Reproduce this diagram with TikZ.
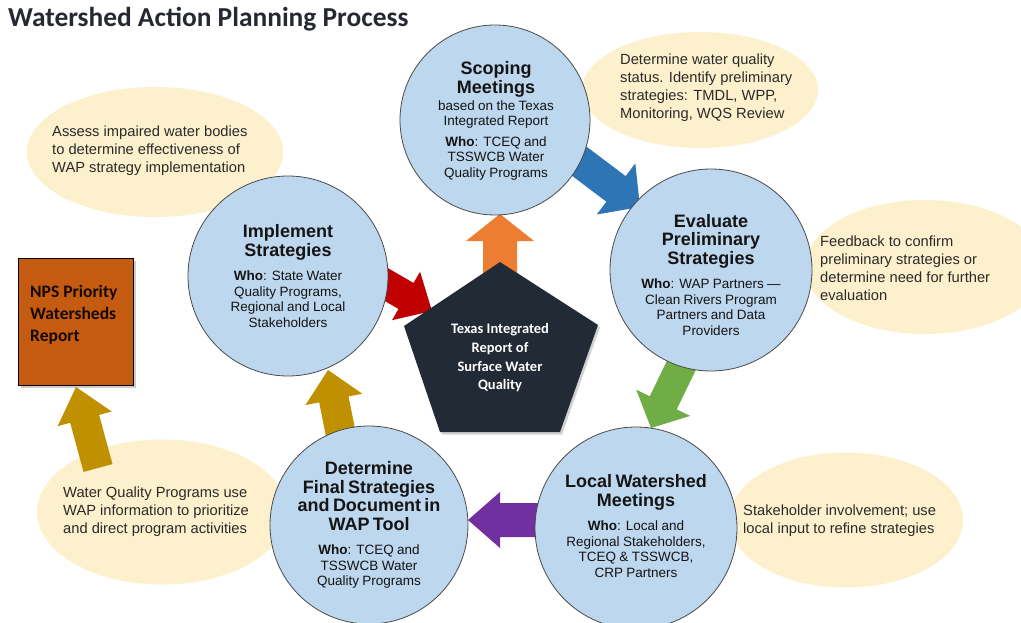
\documentclass[tikz,border=0pt]{standalone}
\usepackage{fontspec}
\setmainfont{Liberation Sans}
\newfontfamily\carlito{Carlito}
\usetikzlibrary{shapes.geometric,shadows,calc}
\definecolor{circfill}{HTML}{BDD7EE}
\definecolor{circedge}{HTML}{4A4A4A}
\definecolor{cream}{HTML}{FDF0CC}
\definecolor{pent}{HTML}{222A35}
\definecolor{npsfill}{HTML}{C55A11}
\definecolor{aorange}{HTML}{ED7D31}
\definecolor{ablue}{HTML}{2E75B6}
\definecolor{agreen}{HTML}{70AD47}
\definecolor{apurple}{HTML}{7030A0}
\definecolor{agold}{HTML}{BF9000}
\definecolor{ared}{HTML}{C00000}
\definecolor{titlec}{HTML}{262A30}
\definecolor{txt}{HTML}{141414}
\definecolor{etxt}{HTML}{2A2A2A}
\newcommand\stgtitle{\fontsize{18}{18.5}\selectfont\bfseries}
\newcommand\stgbody{\fontsize{13.5}{15.5}\selectfont\mdseries}
% block arrow: colour, tail, tip, shaft half width, head half width, head length
\newcommand\blockarrow[6]{%
  \path[fill=#1] let \p1=(#2), \p2=(#3), \n1={atan2(\y2-\y1,\x2-\x1)}, \n2={veclen(\x2-\x1,\y2-\y1)} in
  {[shift={(\p1)}, rotate=\n1]
   (0pt,-#4pt) -- (\n2-#6pt,-#4pt) -- (\n2-#6pt,-#5pt) -- (\n2,0pt) -- (\n2-#6pt,#5pt) -- (\n2-#6pt,#4pt) -- (0pt,#4pt) -- cycle};}
\tikzset{
  stage/.style={circle, fill=circfill, draw=circedge, line width=0.8pt, inner sep=0pt},
  stagetext/.style={text width=175pt, align=center, inner sep=0pt, text=txt},
  note/.style={ellipse, fill=cream, inner sep=0pt},
  notetext/.style={anchor=west, align=left, inner sep=0pt, text=etxt, font=\fontsize{14.7}{18}\selectfont},
}
\begin{document}
\begin{tikzpicture}[x=1pt,y=-1pt]
\path[use as bounding box, fill=white] (0,0) rectangle (1021,623);

% notes (ellipses)
\node[note, minimum width=236pt, minimum height=116pt] (n1) at (700,90) {};
\node[note, minimum width=256pt, minimum height=130pt] (n2) at (155,152) {};
\node[note, minimum width=240pt, minimum height=134pt] (n3) at (925,267) {};
\node[note, minimum width=234pt, minimum height=135pt] (n4) at (846,520) {};
\node[note, minimum width=250pt, minimum height=145pt] (n5) at (162,512) {};
\node[notetext] (n1t) at (620,88) {Determine water quality\\status. Identify preliminary\\strategies: TMDL, WPP,\\Monitoring, WQS Review};
\node[notetext] (n2t) at (52,151) {Assess impaired water bodies\\to determine effectiveness of\\WAP strategy implementation};
\node[notetext] (n3t) at (820,268) {Feedback to confirm\\preliminary strategies or\\determine need for further\\evaluation};
\node[notetext] (n4t) at (743,521) {Stakeholder involvement; use\\local input to refine strategies};
\node[notetext] (n5t) at (63,512) {Water Quality Programs use\\WAP information to prioritize\\and direct program activities};

% arrow end points
\coordinate (oT) at (500,278); \coordinate (oP) at (500,214);
\coordinate (bT) at (575,158); \coordinate (bP) at (640,207);
\coordinate (gT) at (684,360); \coordinate (gP) at (651,428);
\coordinate (pT) at (542,520); \coordinate (pP) at (468,520);
\coordinate (yT) at (342,440); \coordinate (yP) at (328,370);
\coordinate (rT) at (375,278); \coordinate (rP) at (432,311);
\coordinate (zT) at (98,468);  \coordinate (zP) at (76,387);

\blockarrow{aorange}{oT}{oP}{17}{34}{27}
\blockarrow{ablue}{bT}{bP}{16}{32}{30}
\blockarrow{agreen}{gT}{gP}{15}{30}{28}
\blockarrow{apurple}{pT}{pP}{17}{28}{32}
\blockarrow{agold}{yT}{yP}{15}{29}{30}
\blockarrow{ared}{rT}{rP}{15}{28}{30}
\blockarrow{agold}{zT}{zP}{15}{28}{33}

% stages
\node[stage, minimum size=190pt] (scoping) at (495,120) {};
\node[stage, minimum size=202pt] (evaluate) at (711,270) {};
\node[stage, minimum size=202pt] (local) at (636,528) {};
\node[stage, minimum size=198pt] (final) at (369,525) {};
\node[stage, minimum size=200pt] (implement) at (288,276) {};

\node[stagetext] (scopingt) at (496,121) {\stgtitle Scoping\\Meetings\par\vspace{1.5pt}\stgbody based on the Texas\\Integrated Report\par\vspace{5pt}\textbf{Who}: TCEQ and\\TSSWCB Water\\Quality Programs\par};
\node[stagetext] (evaluatet) at (711,275) {\stgtitle Evaluate\\Preliminary\\Strategies\par\vspace{9pt}\stgbody\textbf{Who}: WAP Partners —\\Clean Rivers Program\\Partners and Data\\Providers\par};
\node[stagetext] (localt) at (636,526) {\stgtitle Local Watershed\\Meetings\par\vspace{9pt}\stgbody\textbf{Who}: Local and\\Regional Stakeholders,\\TCEQ \& TSSWCB,\\CRP Partners\par};
\node[stagetext] (finalt) at (369,525) {\stgtitle Determine\\Final Strategies\\and Document in\\WAP Tool\par\vspace{9pt}\stgbody\textbf{Who}: TCEQ and\\TSSWCB Water\\Quality Programs\par};
\node[stagetext] (implementt) at (288,276) {\stgtitle Implement\\Strategies\par\vspace{9pt}\stgbody\textbf{Who}: State Water\\Quality Programs,\\Regional and Local\\Stakeholders\par};

% central pentagon
\coordinate (q1) at (500,262);
\coordinate (q2) at (598,325);
\coordinate (q3) at (560,432);
\coordinate (q4) at (440,432);
\coordinate (q5) at (404,326);
\path[fill=pent, drop shadow={opacity=0.35, shadow xshift=2pt, shadow yshift=-2.5pt}] (q1) -- (q2) -- (q3) -- (q4) -- (q5) -- cycle;
\node[align=center, text=white, inner sep=0pt, font=\carlito\bfseries\fontsize{14.5}{18.7}\selectfont] (report) at (500,358) {Texas Integrated\\Report of\\Surface Water\\Quality};

% NPS box
\node[rectangle, fill=npsfill, draw=black, line width=0.8pt, minimum width=115pt, minimum height=127pt, inner sep=0pt, drop shadow={opacity=0.4, shadow xshift=2.5pt, shadow yshift=-2.5pt}] (nps) at (75.5,321.5) {};
\node[anchor=west, align=left, inner sep=0pt, text=black!90!npsfill, font=\carlito\bfseries\fontsize{17.5}{22}\selectfont] (npst) at (30,315) {NPS Priority\\Watersheds\\Report};

% title
\node[anchor=base west, inner sep=0pt, text=titlec, font=\carlito\bfseries\fontsize{27.4}{32}\selectfont] (title) at (8,27) {Watershed Action Planning Process};
\end{tikzpicture}
\end{document}
